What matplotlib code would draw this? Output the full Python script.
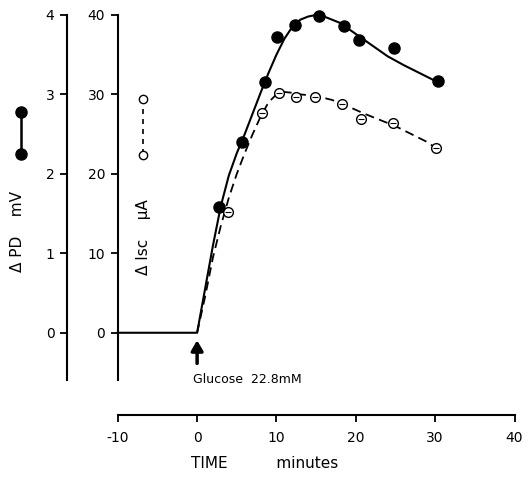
import matplotlib
matplotlib.use("Agg")
from matplotlib import pyplot as plt
from matplotlib.lines import Line2D

# filled circles: delta PD (mV)
time_pd = [2.8, 5.7, 8.5, 10.1, 12.3, 15.4, 18.5, 20.4, 24.8, 30.4]
pd_mv = [1.58, 2.40, 3.16, 3.72, 3.87, 3.99, 3.86, 3.69, 3.58, 3.17]

# open circles: delta Isc (uA)
time_isc = [3.9, 8.2, 10.3, 12.5, 14.8, 18.3, 20.6, 24.7, 30.1]
isc_ua = [15.2, 27.7, 30.2, 29.7, 29.7, 28.8, 26.9, 26.4, 23.3]

# hand drawn curves (in uA units, 1 mV = 10 uA)
curve_t_solid = [-10, 0, 1, 2, 3, 4, 5, 6, 7, 8, 9, 10, 11, 12, 13, 14, 15, 16, 18, 20, 22, 24, 26, 28, 30]
curve_solid = [0, 0, 5.5, 11, 16, 19.8, 22.6, 25, 27.6, 30.2, 32.7, 35, 37, 38.5, 39.4, 39.8, 40, 39.8, 39, 37.6, 36.2, 34.8, 33.7, 32.7, 31.7]
curve_t_dash = [0, 1, 2, 3, 4, 5, 6, 7, 8, 9, 10, 11, 12, 13, 15, 17, 19, 21, 23, 25, 27, 29, 30]
curve_dash = [0, 4.5, 9.5, 13.5, 17, 20, 22.6, 25, 27.2, 29, 30, 30.3, 30.2, 30, 29.8, 29.3, 28.5, 27.6, 26.8, 26, 25, 24, 23.3]

x_ticks = [-10, 0, 10, 20, 30, 40]
isc_ticks = [0, 10, 20, 30, 40]
pd_ticks = [0, 1, 2, 3, 4]

W, H = 529, 480
fig = plt.figure(figsize=(W / 100, H / 100), dpi=100)
ax = fig.add_axes([38.4 / W, 36 / H, 492 / W, 441 / H])
ax.set_xlim(-20, 42)
ax.set_ylim(-14, 41.5)

for s in ["top", "right"]:
    ax.spines[s].set_visible(False)
ax.spines["left"].set_position(("data", -10))
ax.spines["left"].set_bounds(-6, 40)
ax.spines["bottom"].set_position(("data", -10.3))
ax.spines["bottom"].set_bounds(-10, 40)
for s in ["left", "bottom"]:
    ax.spines[s].set_linewidth(1.5)
ax.set_yticks(isc_ticks)
ax.set_xticks(x_ticks)
ax.set_xticklabels([str(t) for t in x_ticks])
ax.tick_params(axis="both", direction="out", length=5, width=1.3, labelsize=10, pad=4)
ax.tick_params(axis="x", pad=7)
ax.set_xlabel("TIME          minutes", fontsize=11, va="center")
ax.xaxis.set_label_coords((265 - 38.4) / 492, -(463 - 444) / 441)

ax2 = ax.twinx()
ax2.set_ylim(-1.4, 4.15)
for s in ["top", "right", "bottom"]:
    ax2.spines[s].set_visible(False)
ax2.spines["left"].set_visible(True)
ax2.spines["left"].set_position(("data", -16.4))
ax2.spines["left"].set_bounds(-0.6, 4)
ax2.spines["left"].set_linewidth(1.5)
ax2.yaxis.tick_left()
ax2.set_yticks(pd_ticks)
ax2.tick_params(axis="y", direction="out", length=5, width=1.3, labelsize=10, pad=4)

# curves
ax.plot(curve_t_solid, curve_solid, color="black", lw=1.5)
ax.plot(curve_t_dash, curve_dash, color="black", lw=1.3, dashes=(5, 3))

# points
ax2.plot(time_pd, pd_mv, "o", color="black", ms=8, zorder=5)
ax.plot(time_isc, isc_ua, "o", mfc="white", mec="black", mew=1.0, ms=7, zorder=5)
ax.plot(time_isc, isc_ua, "_", color="black", ms=5, mew=0.8, zorder=6)

# glucose arrow
ax.annotate("", xy=(0, -0.6), xytext=(0, -4.2),
            arrowprops=dict(arrowstyle="-|>,head_width=0.35,head_length=0.6", color="black", lw=2.5))
ax.text(-0.5, -5.9, "Glucose  22.8mM", fontsize=9, ha="left", va="center")

# axis labels
fig.text(18 / W, 1 - 232 / H, "\u0394 PD    mV", rotation=90, ha="center", va="center", fontsize=11)
fig.text(143 / W, 1 - 237 / H, "\u0394 Isc    \u03bcA", rotation=90, ha="center", va="center", fontsize=11)

# legend symbols
fig.add_artist(Line2D([21 / W, 21 / W], [1 - 112 / H, 1 - 154 / H], color="black", lw=1.8,
                      marker="o", ms=8, transform=fig.transFigure))
fig.add_artist(Line2D([143 / W, 143 / W], [1 - 99 / H, 1 - 155 / H], color="black", lw=1.2,
                      dashes=(3, 3), marker="o", mfc="white", ms=6, transform=fig.transFigure))

fig.savefig("out.png", dpi=100)
